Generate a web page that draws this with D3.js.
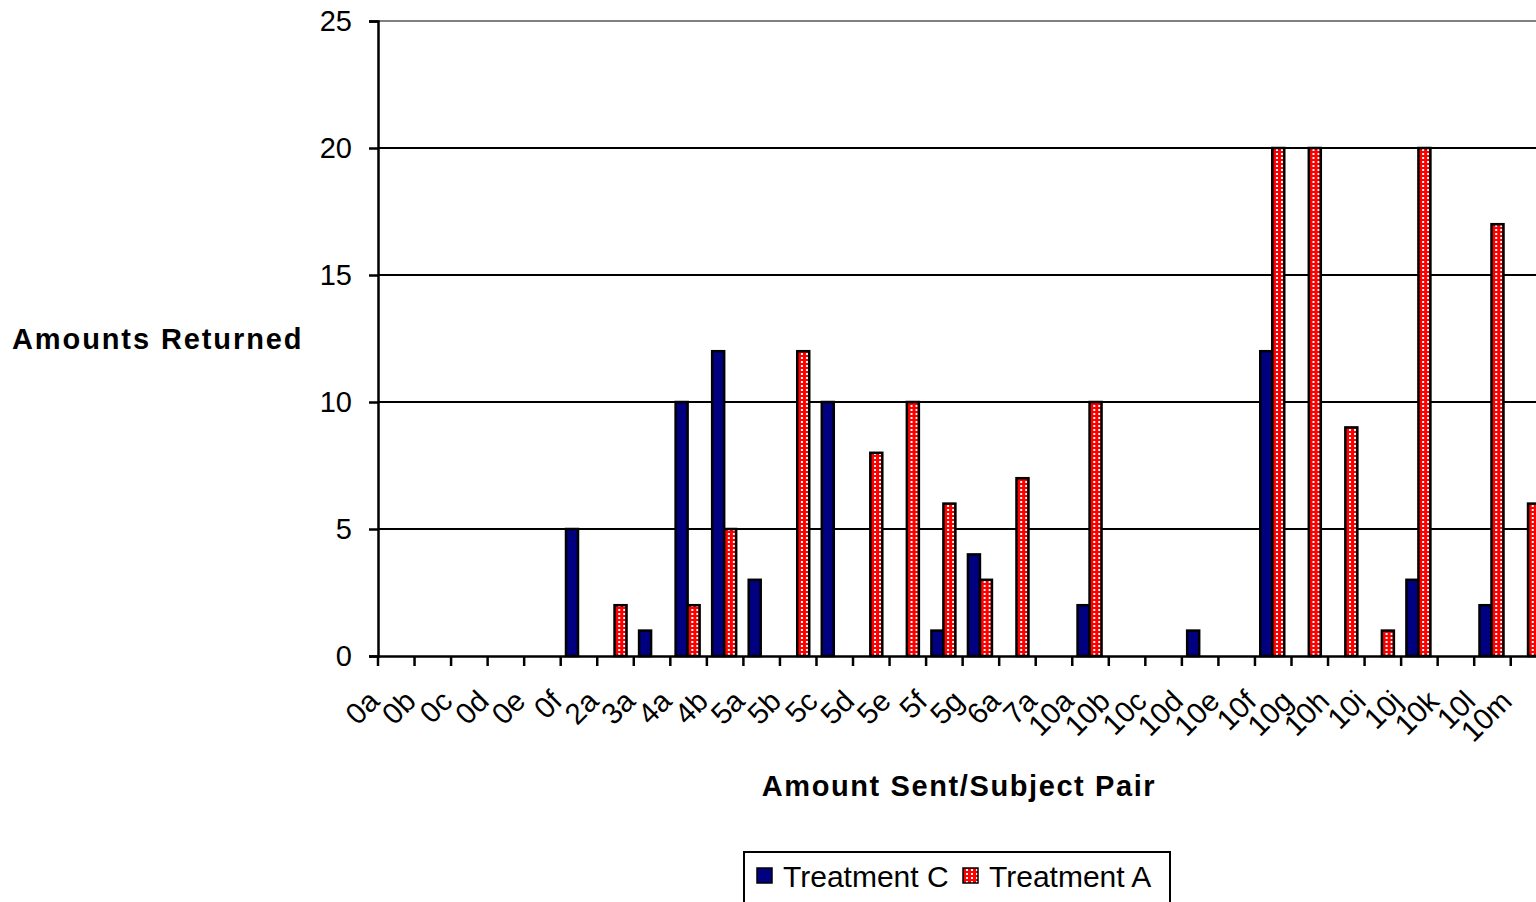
<!DOCTYPE html>
<html>
<head>
<meta charset="utf-8">
<script src="https://cdn.jsdelivr.net/npm/d3@7"></script>
<style>
  html, body { margin: 0; padding: 0; background: #fff; overflow: hidden; }
  svg { display: block; font-family: "Liberation Sans", Arial, sans-serif; }
</style>
</head>
<body>
<svg id="chart" width="1536" height="902"></svg>
<script>
// Amounts returned per subject pair, two treatments
const categories = ["0a","0b","0c","0d","0e","0f","2a","3a","4a","4b","5a","5b","5c","5d","5e","5f","5g","6a","7a","10a","10b","10c","10d","10e","10f","10g","10h","10i","10j","10k","10l","10m"];
const treatmentC = [0,0,0,0,0, 5,0,1,10,12, 3,0,10,0,0, 1,4,0,0,2, 0,0,1,0,12, 0,0,0,3,0, 2,0];
const treatmentA = [0,0,0,0,0, 0,2,0,2,5, 0,12,0,8,10, 6,3,7,0,10, 0,0,0,0,20, 20,9,1,20,0, 17,6];
const seriesNames = ["Treatment C", "Treatment A"];
const yTicks = [0, 5, 10, 15, 20, 25];

const svg = d3.select("#chart");

const plot = { left: 378, top: 21, bottom: 656, step: 36.54 };
const plotRight = plot.left + plot.step * categories.length;

const x = d3.scaleBand().domain(categories).range([plot.left, plotRight]).paddingInner(0).paddingOuter(0);
const y = d3.scaleLinear().domain([0, 25]).range([plot.bottom, plot.top]);
const xs = d3.scaleBand().domain(seriesNames).range([5.3, 29.3]).padding(0);

// dotted red fill (pixel-aligned cells)
const defs = svg.append("defs");
const pat = defs.append("pattern").attr("id", "dots").attr("patternUnits", "userSpaceOnUse")
  .attr("width", 5).attr("height", 4);
pat.append("rect").attr("width", 5).attr("height", 4).attr("fill", "#ff0000");
pat.append("rect").attr("x", 1).attr("y", 1).attr("width", 2).attr("height", 2).attr("fill", "#ffffff");

const colors = { "Treatment C": "#000080", "Treatment A": "url(#dots)" };
const font = "'Liberation Sans', Arial, sans-serif";

// gridlines
svg.append("g").selectAll("line").data(yTicks.filter(d => d > 0)).join("line")
  .attr("x1", plot.left).attr("x2", plotRight)
  .attr("y1", d => y(d)).attr("y2", d => y(d))
  .attr("stroke", d => d === 25 ? "#808080" : "#000")
  .attr("stroke-width", 2.2);

// bars
const rows = categories.map((c, i) => ({ cat: c, vals: [
  { s: "Treatment C", v: treatmentC[i] },
  { s: "Treatment A", v: treatmentA[i] }
]}));
svg.append("g").selectAll("g").data(rows).join("g")
  .attr("transform", d => `translate(${x(d.cat)},0)`)
  .selectAll("rect").data(d => d.vals.filter(e => e.v > 0)).join("rect")
  .attr("x", d => xs(d.s))
  .attr("width", xs.bandwidth())
  .attr("y", d => y(d.v))
  .attr("height", d => y(0) - y(d.v))
  .attr("fill", d => colors[d.s])
  .attr("stroke", "#000")
  .attr("stroke-width", 2.5);

// y axis
const yAxis = svg.append("g").attr("transform", `translate(${plot.left},0)`)
  .call(d3.axisLeft(y).tickValues(yTicks).tickSize(9).tickPadding(17).tickFormat(d3.format("d")));
yAxis.select(".domain").attr("stroke", "#000").attr("stroke-width", 2.5);
yAxis.selectAll(".tick line").attr("stroke", "#000").attr("stroke-width", 2.5);
yAxis.selectAll(".tick text").attr("font-size", 29).attr("fill", "#000")
  .attr("font-family", font);

// x axis: labels, with tick marks on category boundaries
const xAxis = svg.append("g").attr("transform", `translate(0,${plot.bottom})`)
  .call(d3.axisBottom(x).tickSize(0));
xAxis.select(".domain").attr("stroke", "#000").attr("stroke-width", 2.5);
xAxis.selectAll(".tick text")
  .attr("font-size", 29.5).attr("fill", "#000")
  .attr("font-family", font)
  .attr("text-anchor", "end")
  .attr("y", 0).attr("dy", 0)
  .attr("transform", `translate(${-x.bandwidth() / 2 + 3},47) rotate(-45)`);

const bounds = categories.map(c => x(c)).concat([plotRight]);
svg.append("g").selectAll("line").data(bounds).join("line")
  .attr("x1", d => d).attr("x2", d => d)
  .attr("y1", plot.bottom).attr("y2", plot.bottom + 10)
  .attr("stroke", "#000").attr("stroke-width", 2.5);

// axis titles
svg.append("text").attr("x", 12).attr("y", 349)
  .attr("font-size", 29).attr("font-weight", "bold").attr("letter-spacing", 1.9)
  .text("Amounts Returned");
svg.append("text").attr("x", 959).attr("y", 796).attr("text-anchor", "middle")
  .attr("font-size", 29).attr("font-weight", "bold").attr("letter-spacing", 1.6)
  .text("Amount Sent/Subject Pair");

// legend
const legend = svg.append("g");
legend.append("rect").attr("x", 744).attr("y", 852).attr("width", 426).attr("height", 70)
  .attr("fill", "#fff").attr("stroke", "#000").attr("stroke-width", 2);
const legendX = [757, 963];
seriesNames.forEach((s, i) => {
  legend.append("rect").attr("x", legendX[i]).attr("y", 868).attr("width", 15).attr("height", 15)
    .attr("fill", colors[s]).attr("stroke", "#000").attr("stroke-width", 1.5);
  legend.append("text").attr("x", legendX[i] + 26).attr("y", 887)
    .attr("font-size", 30).text(s);
});
</script>
</body>
</html>
